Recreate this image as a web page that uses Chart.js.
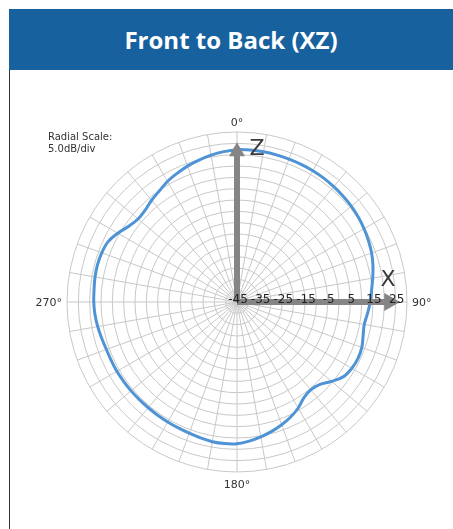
<!DOCTYPE html>
<html>
<head>
<meta charset="utf-8">
<script src="https://cdn.jsdelivr.net/npm/chart.js@4"></script>
<style>
    body { margin: 0; background: #fff; }
    #wrap { position: relative; width: 453px; height: 529px; overflow: hidden; }
    #header {
        position: absolute; left: 9px; top: 9px; width: 444px; height: 61px;
        background: #17619f; color: #fff;
        font: 700 24px "Open Sans", sans-serif;
        display: flex; align-items: center; justify-content: center;
    }
    #box { position: absolute; left: 9px; top: 70px; width: 0; height: 459px; border-left: 1px solid #333; }
    canvas { position: absolute; left: 0; top: 0; }
</style>
</head>
<body>
<div id="wrap">
    <canvas id="polarChart" width="453" height="529"></canvas>
    <div id="header">Front to Back (XZ)</div>
    <div id="box"></div>
</div>
<script>
// Kąty co 5 stopni (0 = góra, zgodnie z ruchem wskazówek)
const angles = [
    0, 5, 10, 15, 20, 25, 30, 35, 40, 45, 50, 55,
    60, 65, 70, 75, 80, 85, 90, 95, 100, 105, 110, 115,
    120, 125, 130, 135, 140, 145, 150, 155, 160, 165, 170, 175,
    180, 185, 190, 195, 200, 205, 210, 215, 220, 225, 230, 235,
    240, 245, 250, 255, 260, 265, 270, 275, 280, 285, 290, 295,
    300, 305, 310, 315, 320, 325, 330, 335, 340, 345, 350, 355
];

// Zysk w dB
const gain = [
    22.2, 22.3, 22.3, 22.2, 22.1, 22.0, 21.9, 21.7, 21.4, 21.1, 20.8, 20.3,
    19.7, 19.0, 18.2, 17.1, 15.8, 14.6, 13.8, 12.8, 12.0, 12.6, 13.6, 13.9,
    13.5, 12.4, 9.5, 6.5, 5.6, 6.5, 9.0, 11.0, 12.6, 14.1, 15.4, 16.6,
    17.5, 17.7, 17.6, 17.1, 16.6, 16.3, 16.1, 16.0, 15.9, 15.9, 16.0, 16.1,
    16.2, 16.2, 16.3, 16.8, 17.4, 17.9, 18.2, 18.3, 18.6, 18.7, 18.5, 17.8,
    15.7, 13.3, 12.0, 12.3, 13.6, 14.8, 16.4, 17.6, 18.8, 19.8, 20.8, 21.6
];

const rMin = -45;
const rMax = 30;
const rStep = 5;
const rTickLabels = [-45, -35, -25, -15, -5, 5, 15, 25];
const compassLabels = ['0°', '90°', '180°', '270°'];

// Etykiety, strzałki osi i opis skali
const overlayPlugin = {
    id: 'overlay',
    afterDatasetsDraw(chart) {
        const ctx = chart.ctx;
        const r = chart.scales.r;
        const cx = r.xCenter;
        const cy = r.yCenter;
        const R = r.drawingArea;

        ctx.save();
        // strzałki Z i X
        ctx.fillStyle = '#858585';
        const zTip = r.getDistanceFromCenterForValue(25.5);
        const xTip = r.getDistanceFromCenterForValue(27);
        ctx.fillRect(cx - 3, cy - zTip + 12, 6, zTip - 12);
        ctx.beginPath();
        ctx.moveTo(cx, cy - zTip);
        ctx.lineTo(cx + 8, cy - zTip + 14);
        ctx.lineTo(cx - 8, cy - zTip + 14);
        ctx.closePath();
        ctx.fill();
        ctx.fillRect(cx, cy - 3, xTip - 12, 6);
        ctx.beginPath();
        ctx.moveTo(cx + xTip, cy);
        ctx.lineTo(cx + xTip - 16, cy - 9);
        ctx.lineTo(cx + xTip - 16, cy + 9);
        ctx.closePath();
        ctx.fill();

        ctx.fillStyle = '#3a3a3a';
        ctx.font = '22px "DejaVu Sans"';
        ctx.textAlign = 'center';
        ctx.textBaseline = 'middle';
        ctx.fillText('Z', cx + 20, cy - zTip + 7);
        ctx.fillText('X', cx + 151, cy - 22);

        // etykiety skali radialnej
        ctx.fillStyle = '#222';
        ctx.font = '12px "DejaVu Sans"';
        ctx.textBaseline = 'alphabetic';
        rTickLabels.forEach(v => {
            const d = r.getDistanceFromCenterForValue(v);
            ctx.fillText(String(v), cx + d + 1, cy + 1);
        });

        // kierunki
        ctx.fillStyle = '#333';
        ctx.font = '11px "DejaVu Sans"';
        ctx.textAlign = 'center';
        ctx.textBaseline = 'bottom';
        ctx.fillText(compassLabels[0], cx, cy - R - 3);
        ctx.textBaseline = 'top';
        ctx.fillText(compassLabels[2], cx, cy + R + 8);
        ctx.textBaseline = 'middle';
        ctx.textAlign = 'left';
        ctx.fillText(compassLabels[1], cx + R + 5, cy + 1);
        ctx.textAlign = 'right';
        ctx.fillText(compassLabels[3], cx - R - 5, cy + 1);

        ctx.textAlign = 'left';
        ctx.textBaseline = 'alphabetic';
        ctx.font = '10px "DejaVu Sans"';
        ctx.fillText('Radial Scale:', 48, 140);
        ctx.fillText('5.0dB/div', 48, 152);
        ctx.restore();
    }
};

const chart = new Chart(document.getElementById('polarChart'), {
    type: 'radar',
    data: {
        labels: angles,
        datasets: [{
            data: gain,
            borderColor: '#4e93d6',
            borderWidth: 3,
            fill: false,
            tension: 0.35,
            pointRadius: 0,
            pointHoverRadius: 0
        }]
    },
    options: {
        responsive: false,
        animation: false,
        layout: {
            padding: { left: 67, right: 46, top: 132, bottom: 57 }
        },
        plugins: {
            legend: { display: false },
            tooltip: { enabled: false }
        },
        scales: {
            r: {
                min: rMin,
                max: rMax,
                ticks: { stepSize: rStep, display: false },
                pointLabels: { display: false },
                grid: { circular: true, color: '#c8c8c8', lineWidth: 1 },
                angleLines: {
                    color: '#c8c8c8',
                    lineWidth: ctx => (ctx.index % 2 === 0 ? 1 : 0)
                }
            }
        }
    },
    plugins: [overlayPlugin]
});
</script>
</body>
</html>
